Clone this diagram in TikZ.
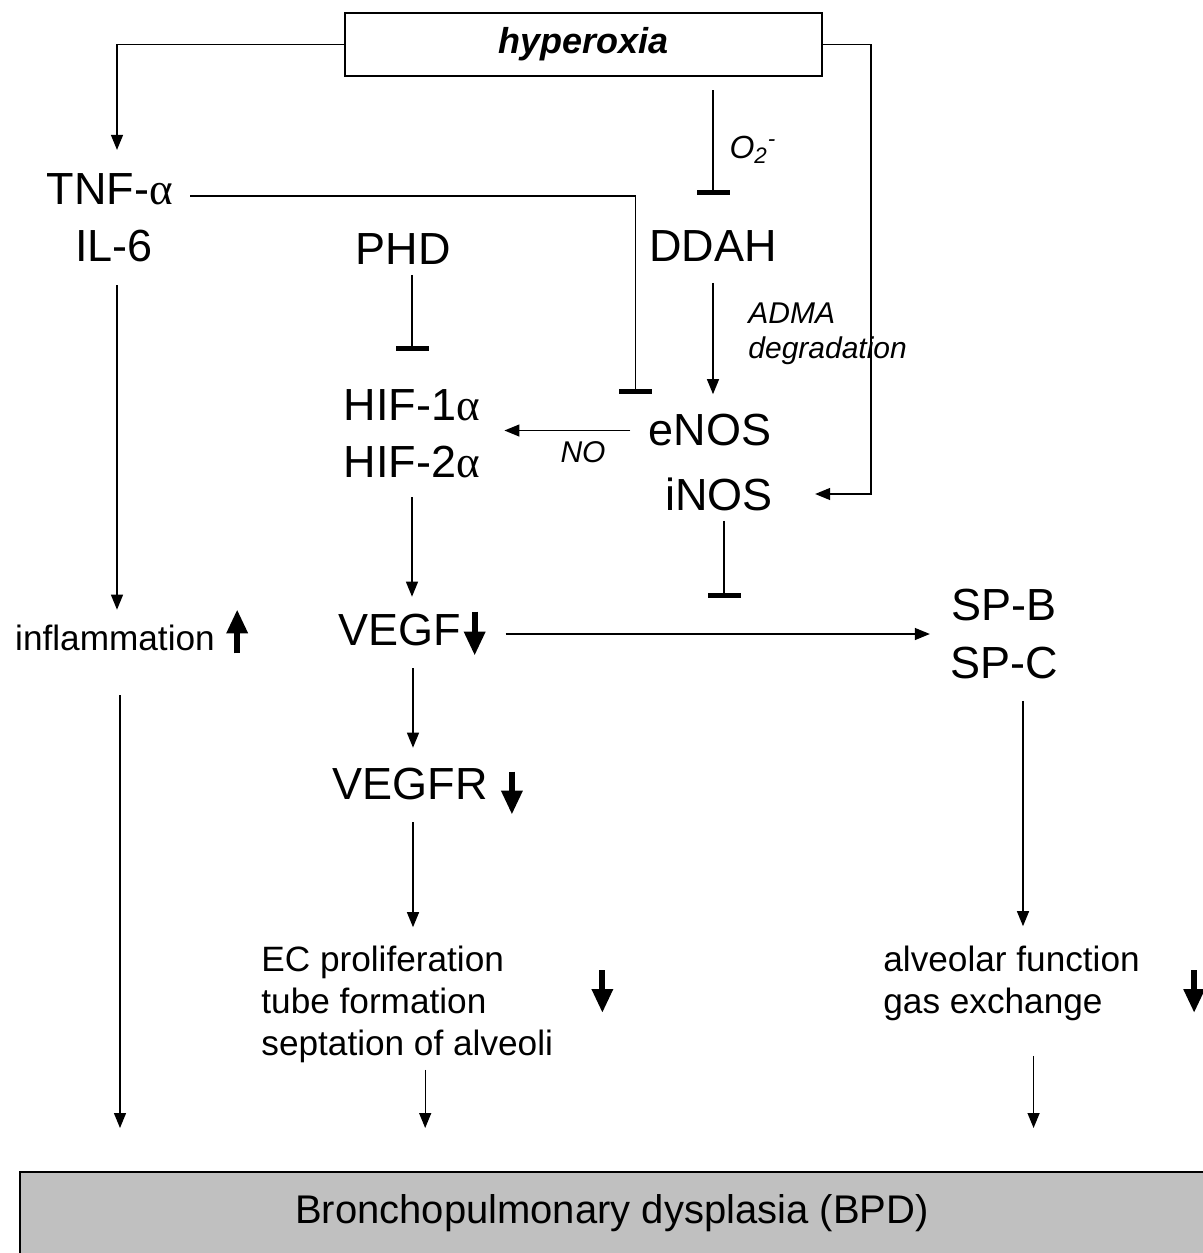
\documentclass[tikz,border=0pt]{standalone}
\usepackage{fontspec}
\setmainfont{Liberation Sans}
\newfontfamily\grkfont{Liberation Serif}
\usepackage{xcolor}
\usepackage{tikz}
\usetikzlibrary{positioning,calc,arrows.meta}
\definecolor{bpdgray}{RGB}{192,192,192}
\newcommand{\alp}{{\grkfont α}}

\begin{document}
\begin{tikzpicture}[x=0.5pt,y=-0.5pt,
	big/.style={font=\fontsize{22.5}{28.5}\selectfont,inner sep=0pt,align=center},
	mid/.style={font=\fontsize{17.6}{21}\selectfont,inner sep=0pt,align=left},
	lab/.style={font=\fontsize{15}{17.5}\selectfont\itshape,inner sep=0pt,align=left},
	arr/.style={line width=0.65pt,-{Triangle[length=7.5pt,width=6pt]}},
	inh/.style={line width=0.65pt,-{Bar[width=16.5pt,line width=2.4pt]}},
	bigarr/.style={line width=3pt,-{Triangle[length=12pt,width=10pt]}}]
			\useasboundingbox (0,0) rectangle (1203,1253);
			
			\node[draw,line width=1pt,minimum width=238.5pt,minimum height=31.5pt,
				font=\fontsize{18}{21}\selectfont\bfseries\itshape] (hyper) at (583.5,44.5) {hyperoxia};
			
			\node[big] (tnf) at (110,189) {TNF-\alp};
			\node[big] (ilsix) at (114,246) {IL-6};
			\node[big] (phd) at (403,249) {PHD};
			\node[big] (ddah) at (713,246) {DDAH};
			\node[big] (hif) at (412,433.5) {HIF-1\alp\\HIF-2\alp};
			\node[big] (enos) at (710,430.5) {eNOS};
			\node[big] (inos) at (719,494) {iNOS};
			\node[mid] (infl) at (115,638) {inflammation};
			\node[big] (vegf) at (400,630) {VEGF};
			\node[big] (sp) at (1004,634) {SP-B\\SP-C};
			\node[big] (vegfr) at (410,784) {VEGFR};
			\node[mid,anchor=west] (ecprolif) at (261,1004) {EC proliferation\\tube formation\\septation of alveoli};
			\node[mid,anchor=west] (alvfunc) at (883,983) {alveolar function\\gas exchange};
			
			\node[lab,font=\fontsize{16}{18}\selectfont\itshape] (otwo) at (753,150) {O\textsubscript{2}\textsuperscript{-}};
			\node[lab,anchor=west] (adma) at (748,334) {ADMA\\degradation};
			\node[lab] (nolab) at (583,452) {NO};
			
			\node[fill=bpdgray,minimum width=591.5pt,minimum height=40.5pt,anchor=north west,
				inner sep=0pt,font=\fontsize{20}{24}\selectfont] (bpd) at (20,1172) {Bronchopulmonary dysplasia (BPD)};
			\draw[line width=1pt] (bpd.south west) |- (bpd.north east);
			
			\draw[arr,shorten >=11.5pt] (hyper.west) -| ([xshift=3.5pt]tnf.north);
			\draw[arr,shorten >=21pt] (hyper.east) -- ++(48,0) |- (inos.east);
			\draw[inh,shorten <=6.5pt,shorten >=17.5pt] (ddah.north |- hyper.south) -- (ddah.north);
			\draw[inh,shorten <=8.5pt,shorten >=10pt] ([yshift=-3.5pt]tnf.east) -| ([xshift=-6.5pt]enos.north west);
			\draw[inh,shorten <=5pt,shorten >=19pt] (phd.south -| hif.north) -- (hif.north);
			\draw[arr,shorten <=10.5pt,shorten >=10pt] (ddah.south) -- (ddah.south |- enos.north);
			\draw[arr,shorten <=9pt,shorten >=12pt] (enos.west) -- (enos.west -| hif.east);
			\draw[inh,shorten <=5pt] ([xshift=2.5pt]inos.south) -- ++(0,87);
			
			\draw[arr,shorten <=9.5pt,shorten >=8.5pt] (hif.south) -- (hif.south |- vegf.north);
			\draw[arr,shorten <=11.5pt,shorten >=7.5pt] ([xshift=1.5pt]ilsix.south) -- ([xshift=1.5pt]ilsix.south |- infl.north);
			\draw[arr,shorten <=22pt,shorten >=22pt] ([xshift=2.5pt]infl.south) -- ([xshift=2.5pt]infl.south |- bpd.north);
			\draw[arr,shorten <=22pt,shorten >=10pt] (sp.west -| vegf.east) -- (sp.west);
			\draw[arr,shorten <=11pt,shorten >=10pt] ([xshift=1.5pt]vegfr.north |- vegf.south) -- ([xshift=1.5pt]vegfr.north);
			\draw[arr,shorten <=11pt,shorten >=9pt] ([xshift=1.5pt]vegfr.south) -- ([xshift=1.5pt]vegfr.south |- ecprolif.north);
			\draw[arr,shorten <=3.5pt,shorten >=22pt] ([xshift=9pt]ecprolif.south) -- ([xshift=9pt]ecprolif.south |- bpd.north);
			\draw[arr,shorten <=11pt,shorten >=9.5pt] ([xshift=9.5pt]sp.south) -- ([xshift=9.5pt]sp.south |- alvfunc.north);
			\draw[arr,shorten <=17.5pt,shorten >=22pt] ([xshift=11pt]alvfunc.south) -- ([xshift=11pt]alvfunc.south |- bpd.north);
			
			\draw[bigarr] ([xshift=11pt,yshift=-1pt]infl.south east) -- ++(0,-44);
			\draw[bigarr] ([xshift=6.5pt,yshift=1pt]vegf.north east) -- ++(0,44);
			\draw[bigarr] ([xshift=12pt,yshift=-2pt]vegfr.north east) -- ++(0,43);
			\draw[bigarr] ([xshift=24.5pt,yshift=17pt]ecprolif.east) -- ++(0,43);
			\draw[bigarr] ([xshift=27pt,yshift=6.5pt]alvfunc.east) -- ++(0,43);
		\end{tikzpicture}
\end{document}
